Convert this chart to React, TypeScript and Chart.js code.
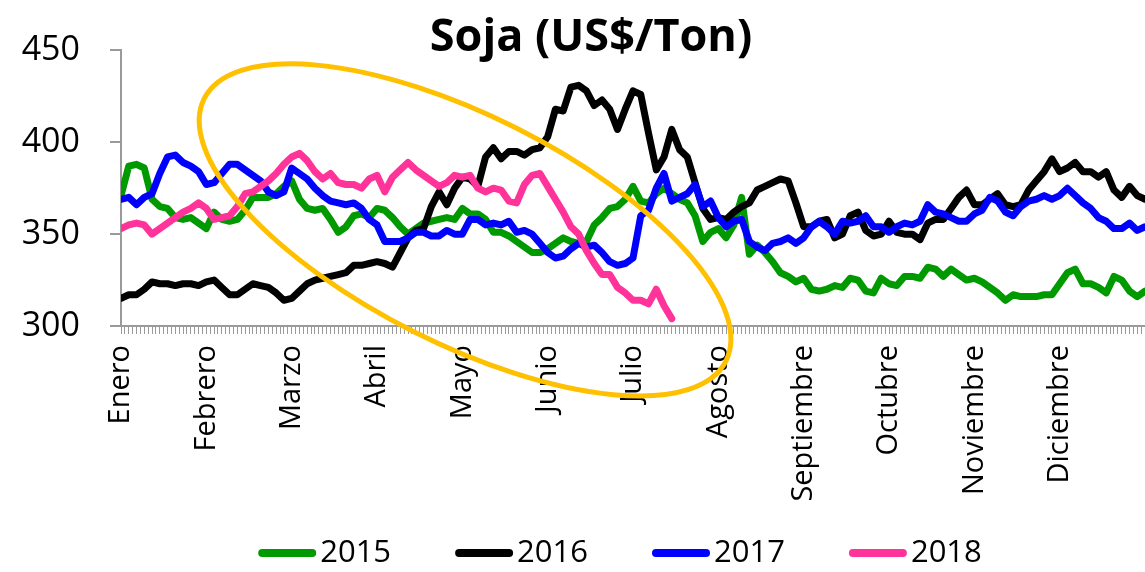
import { useEffect, useRef } from 'react';
import { Chart, registerables } from 'chart.js';

Chart.register(...registerables);

// ---------- data ----------
const MONTHS = ['Enero', 'Febrero', 'Marzo', 'Abril', 'Mayo', 'Junio', 'Julio', 'Agosto', 'Septiembre', 'Octubre', 'Noviembre', 'Diciembre'];
const DAYS_PER_MONTH = 22; // trading days per month on the axis
const TOTAL_DAYS = 264;
const STEP = 2; // each value below is every second trading day

const SERIES_NAMES = ['2015', '2016', '2017', '2018'];
const SERIES_COLORS = ['#009A00', '#000000', '#0000FF', '#FF3399'];

const Y_MIN = 300;
const Y_MAX = 450;
const Y_STEP = 50;

const SOJA_2015 = [
  371, 387, 388, 386, 369, 365, 364, 359, 358, 359, 356, 353, 362, 358, 357, 358, 363, 370, 370, 370,
  372, 376, 379, 369, 364, 363, 364, 358, 351, 354, 360, 361, 359, 364, 363, 359, 354, 350, 353, 356,
  357, 358, 359, 358, 364, 361, 361, 358, 351, 351, 349, 346, 343, 340, 340, 342, 345, 348, 346, 345,
  346, 355, 359, 364, 365, 369, 376, 368, 367, 372, 375, 372, 369, 367, 360, 346, 351, 353, 348, 355,
  370, 339, 344, 340, 335, 329, 327, 324, 326, 320, 319, 320, 322, 321, 326, 325, 319, 318, 326, 323,
  322, 327, 327, 326, 332, 331, 327, 331, 328, 325, 326, 324, 321, 318, 314, 317, 316, 316, 316, 317,
  317, 323, 329, 331, 323, 323, 321, 318, 327, 325, 319, 316, 319,
];

const SOJA_2016 = [
  315, 317, 317, 320, 324, 323, 323, 322, 323, 323, 322, 324, 325, 321, 317, 317, 320, 323, 322, 321,
  318, 314, 315, 319, 323, 325, 326, 327, 328, 329, 333, 333, 334, 335, 334, 332, 340, 348, 352, 353,
  365, 373, 366, 375, 381, 380, 376, 392, 397, 391, 395, 395, 393, 396, 397, 403, 418, 417, 430, 431,
  428, 420, 423, 418, 407, 418, 428, 426, 405, 385, 392, 407, 396, 392, 378, 364, 358, 359, 358, 362,
  365, 367, 374, 376, 378, 380, 379, 367, 354, 354, 357, 358, 348, 350, 360, 362, 352, 349, 350, 357,
  351, 350, 350, 347, 356, 358, 358, 364, 370, 374, 366, 366, 369, 372, 366, 365, 366, 374, 379, 384,
  391, 384, 386, 389, 384, 384, 381, 384, 374, 370, 376, 371, 369,
];

const SOJA_2017 = [
  369, 370, 366, 370, 372, 383, 392, 393, 389, 387, 384, 377, 378, 383, 388, 388, 385, 382, 379, 373,
  371, 373, 386, 383, 380, 375, 371, 368, 367, 366, 367, 364, 358, 355, 346, 346, 346, 348, 351, 351,
  349, 349, 352, 350, 350, 358, 358, 355, 356, 355, 357, 351, 352, 350, 345, 340, 337, 338, 342, 345,
  343, 344, 340, 335, 333, 334, 337, 360, 363, 375, 383, 368, 370, 372, 377, 365, 368, 359, 354, 357,
  358, 346, 343, 341, 345, 346, 348, 345, 348, 354, 357, 354, 350, 357, 356, 357, 360, 354, 354, 351,
  354, 356, 355, 357, 366, 362, 361, 359, 357, 357, 361, 363, 370, 368, 362, 360, 365, 368, 369, 371,
  369, 371, 375, 371, 367, 364, 359, 357, 353, 353, 356, 352, 354,
];

const SOJA_2018 = [
  353, 355, 356, 355, 350, 353, 356, 359, 362, 364, 367, 364, 358, 359, 360, 365, 372, 373, 376, 379,
  383, 388, 392, 394, 390, 384, 380, 383, 378, 377, 377, 375, 380, 382, 373, 381, 385, 389, 385, 382,
  379, 376, 378, 382, 381, 382, 375, 373, 375, 374, 368, 367, 377, 382, 383, 376, 369, 362, 354, 350,
  341, 334, 328, 328, 321, 318, 314, 314, 312, 320, 311, 304,
];

const SERIES_VALUES = [SOJA_2015, SOJA_2016, SOJA_2017, SOJA_2018];

// annotation ellipse (centre in data units, radii in pixels)
const ELLIPSE_CENTER_DAY = 88.7;
const ELLIPSE_CENTER_VALUE = 352.3;
const ELLIPSE_RX = 292;
const ELLIPSE_RY = 114;
const ELLIPSE_ROTATION_DEG = 26.7;
const ELLIPSE_COLOR = '#FFC000';

const TITLE = 'Soja (US$/Ton)';

const AXIS_GRAY = '#9a9a9a';
const FONT = '"Open Sans", "DejaVu Sans", sans-serif';

const LEGEND_Y = 553;
const LEGEND_CENTER_X = 620;
const LEGEND_SWATCH = 58;
const LEGEND_TEXT_GAP = 4;
const LEGEND_ITEM_GAP = 64;

const overlayPlugin = {
  id: 'overlay',
  afterDraw(chart: any) {
    const { ctx, scales } = chart;
    const area = chart.chartArea;

    // annotation ellipse
    const cx = scales.x.getPixelForValue(ELLIPSE_CENTER_DAY);
    const cy = scales.y.getPixelForValue(ELLIPSE_CENTER_VALUE);
    ctx.save();
    ctx.beginPath();
    ctx.ellipse(cx, cy, ELLIPSE_RX, ELLIPSE_RY, (ELLIPSE_ROTATION_DEG * Math.PI) / 180, 0, Math.PI * 2);
    ctx.strokeStyle = ELLIPSE_COLOR;
    ctx.lineWidth = 5;
    ctx.stroke();
    ctx.restore();

    // title
    ctx.save();
    ctx.font = `bold 45px ${FONT}`;
    ctx.fillStyle = '#000';
    ctx.textAlign = 'center';
    ctx.textBaseline = 'middle';
    ctx.fillText(TITLE, area.left + (area.right - area.left) * 0.459, 38);
    ctx.restore();

    // legend
    ctx.save();
    ctx.font = `31px ${FONT}`;
    ctx.textBaseline = 'middle';
    ctx.textAlign = 'left';
    const items = chart.data.datasets.map((d: any) => ({
      text: d.label,
      color: d.borderColor,
      w: LEGEND_SWATCH + LEGEND_TEXT_GAP + ctx.measureText(d.label).width,
    }));
    const total = items.reduce((a: number, it: any) => a + it.w, 0) + LEGEND_ITEM_GAP * (items.length - 1);
    let x = LEGEND_CENTER_X - total / 2;
    for (const it of items) {
      ctx.beginPath();
      ctx.lineCap = 'round';
      ctx.lineWidth = 8;
      ctx.strokeStyle = it.color;
      ctx.moveTo(x + 4, LEGEND_Y);
      ctx.lineTo(x + LEGEND_SWATCH - 4, LEGEND_Y);
      ctx.stroke();
      ctx.fillStyle = '#000';
      ctx.fillText(it.text, x + LEGEND_SWATCH + LEGEND_TEXT_GAP, LEGEND_Y);
      x += it.w + LEGEND_ITEM_GAP;
    }
    ctx.restore();
  },
};

export default function App() {
  const canvasRef = useRef<HTMLCanvasElement | null>(null);

  useEffect(() => {
    if (!canvasRef.current) return;
    const datasets = SERIES_VALUES.map((vals, s) => ({
      label: SERIES_NAMES[s],
      data: vals.map((y, k) => ({ x: k * STEP, y })),
      borderColor: SERIES_COLORS[s],
      backgroundColor: SERIES_COLORS[s],
      borderWidth: 7,
      pointRadius: 0,
      tension: 0,
      borderJoinStyle: 'round' as const,
      borderCapStyle: 'round' as const,
      order: SERIES_VALUES.length - s,
    }));

    const chart = new Chart(canvasRef.current, {
      type: 'line',
      data: { datasets },
      plugins: [overlayPlugin],
      options: {
        animation: false,
        responsive: false,
        events: [],
        layout: { padding: { top: 45, left: 0, right: 0, bottom: 0 } },
        scales: {
          x: {
            type: 'linear',
            min: 0,
            max: TOTAL_DAYS,
            afterBuildTicks: (s: any) => {
              const t = [];
              for (let i = 0; i <= TOTAL_DAYS; i++) t.push({ value: i });
              s.ticks = t;
            },
            afterFit: (s: any) => {
              s.height = 246;
              s.paddingLeft = 0;
              s.paddingRight = 0;
            },
            ticks: {
              autoSkip: false,
              minRotation: 90,
              maxRotation: 90,
              padding: 11,
              color: '#000',
              font: { family: FONT, size: 29 },
              callback: (v: any) => {
                const n = Number(v);
                return n % DAYS_PER_MONTH === 0 && n / DAYS_PER_MONTH < MONTHS.length ? MONTHS[n / DAYS_PER_MONTH] : '';
              },
            },
            grid: { display: true, drawOnChartArea: false, drawTicks: true, tickLength: 8, color: AXIS_GRAY, lineWidth: 1 },
            border: { display: true, color: AXIS_GRAY, width: 2 },
          },
          y: {
            min: Y_MIN,
            max: Y_MAX,
            afterFit: (s: any) => {
              s.width = 121;
            },
            ticks: { stepSize: Y_STEP, padding: 30, color: '#000', font: { family: FONT, size: 34 } },
            grid: { display: true, drawOnChartArea: false, drawTicks: true, tickLength: 11, color: AXIS_GRAY, lineWidth: 2 },
            border: { display: true, color: AXIS_GRAY, width: 2 },
          },
        },
        plugins: {
          tooltip: { enabled: false },
          title: { display: false },
          legend: { display: false },
        },
      } as any,
    });
    return () => chart.destroy();
  }, []);

  return (
    <div style={{ position: 'fixed', left: 0, top: 0, width: 1145, height: 572, background: '#fff' }}>
      <canvas ref={canvasRef} width={1145} height={572} style={{ display: 'block' }} />
    </div>
  );
}
